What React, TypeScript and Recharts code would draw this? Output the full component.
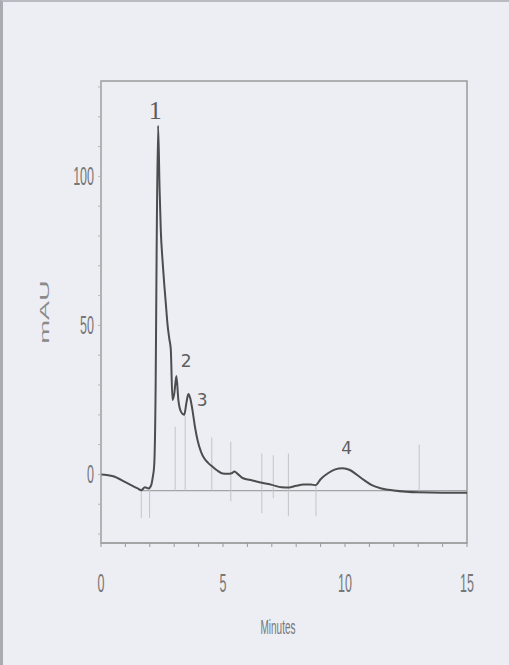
import { LineChart, Line, XAxis, YAxis, ReferenceLine, ReferenceArea, Scatter } from "recharts";

// retention time (min) and absorbance (mAU)
const times = [
  0, 0.5, 1.0, 1.5, 1.65, 1.8, 1.95, 2.05, 2.12, 2.18, 2.24, 2.28, 2.34, 2.4, 2.45, 2.52, 2.59, 2.66, 2.73, 2.8,
  2.86, 2.93, 3.0, 3.09, 3.17, 3.28, 3.41, 3.5, 3.58, 3.66, 3.75, 3.85, 3.96, 4.1, 4.23, 4.4, 4.57, 4.75, 4.98,
  5.2, 5.35, 5.47, 5.6, 5.8, 6.2, 6.6, 7.0, 7.4, 7.7, 8.0, 8.3, 8.6, 8.8, 9.0, 9.3, 9.6, 9.9, 10.2, 10.5, 10.8,
  11.1, 11.5, 12.0, 12.5, 13.0, 14.0, 15.0,
];
const mau = [
  0, -0.6, -2.6, -4.7, -5.3, -4.3, -4.7, -3.8, -1, 3, 30, 75, 117, 96, 82, 72, 64, 57, 50, 45.5,
  42, 25, 27, 33, 25, 21, 20, 24, 27, 25.5, 21.5, 16, 11.4, 7.6, 5.4, 3.8, 2.6, 1.4, 0.3,
  0.2, 0.4, 1.0, 0.2, -1.2, -2, -2.8, -3.5, -4.3, -4.4, -3.8, -3.4, -3.4, -3.6, -1.6, 0.4, 1.7, 2.1, 1.5, -0.2, -2,
  -3.6, -4.7, -5.4, -5.8, -6, -6.1, -6.1,
];

const xTicks = [0, 1, 2, 3, 4, 5, 6, 7, 8, 9, 10, 11, 12, 13, 14, 15];
const xLabels = [0, 5, 10, 15];
const yTicks = [-20, -10, 0, 10, 20, 30, 40, 50, 60, 70, 80, 90, 100, 110, 120, 130];
const yLabels = [0, 50, 100];

// integration event markers: time, upper end, lower end (mAU)
const markerTimes = [1.65, 1.99, 3.04, 3.45, 4.54, 5.32, 6.59, 7.06, 7.68, 8.81, 13.04];
const markerTops = [-5, -3.8, 16, 19.6, 12.4, 11, 7, 6.4, 7, -4, 10];
const markerBottoms = [-14.6, -14.6, -5.4, -5.4, -5.4, -9, -13, -8, -14, -14, -5.6];

const baselineStart = 1.65;
const baselineEnd = 15;
const baselineLevel = -5.4;

const peakNames = ["1", "2", "3", "4"];
const peakLabelX = [2.22, 3.49, 4.15, 10.07];
const peakLabelY = [122, 38, 25, 8.8];

const data = times.map((t, i) => ({ t, v: mau[i] }));
const peaks = peakNames.map((name, i) => ({ t: peakLabelX[i], v: peakLabelY[i], name }));
const markers = markerTimes.map((t, i) => ({ t, top: markerTops[i], bottom: markerBottoms[i] }));

const ink = "#4d4d4f";
const axisGray = "#9a9a9a";
const labelGray = "#777";

const XTick = ({ x, y, payload }: any) => {
  if (!xLabels.includes(payload.value)) return <g />;
  return (
    <text
      transform={`translate(${x},${y + 43}) scale(0.5,1)`}
      textAnchor="middle"
      fontFamily="Liberation Sans"
      fontSize={25}
      fill={labelGray}
    >
      {payload.value}
    </text>
  );
};

const YTick = ({ x, y, payload }: any) => {
  if (!yLabels.includes(payload.value)) return <g />;
  return (
    <text
      transform={`translate(${x - 2},${y + 9}) scale(0.5,1)`}
      textAnchor="end"
      fontFamily="Liberation Sans"
      fontSize={25}
      fill={labelGray}
    >
      {payload.value}
    </text>
  );
};

const PeakLabel = ({ cx, cy, payload }: any) => (
  <text
    x={cx}
    y={cy}
    textAnchor="middle"
    dominantBaseline="central"
    fontFamily={payload.name === "1" ? "Liberation Serif" : "DejaVu Sans"}
    fontSize={payload.name === "1" ? 26 : 17}
    fill="#5e5e5e"
  >
    {payload.name}
  </text>
);

export default function App() {
  return (
    <div
      style={{
        position: "fixed",
        left: 0,
        top: 0,
        width: 509,
        height: 665,
        background: "#eceef4",
        boxSizing: "border-box",
        borderTop: "2px solid #b9bbc2",
        borderLeft: "3px solid #a9abb2",
      }}
    >
      <div style={{ position: "absolute", left: -3, top: -2 }}>
        <LineChart width={509} height={665} data={data} margin={{ top: 81, right: 42, bottom: 82, left: 41 }}>
          <XAxis
            dataKey="t"
            type="number"
            domain={[0, 15]}
            ticks={xTicks}
            height={40}
            tickSize={4}
            stroke={axisGray}
            tick={<XTick />}
            interval={0}
            label={{
              content: ({ viewBox }: any) => (
                <text
                  transform={`translate(${viewBox.x + viewBox.width / 2 - 6},${viewBox.y + 91}) scale(0.5,1)`}
                  textAnchor="middle"
                  fontFamily="Liberation Sans"
                  fontSize={20}
                  fill={labelGray}
                >
                  Minutes
                </text>
              ),
            }}
          />
          <YAxis
            type="number"
            domain={[-23, 132]}
            ticks={yTicks}
            width={60}
            tickSize={3}
            stroke="#b5b5b5"
            tick={<YTick />}
            interval={0}
            allowDataOverflow
            label={{
              content: ({ viewBox }: any) => (
                <text
                  transform={`translate(45,${viewBox.y + viewBox.height / 2}) rotate(-90) scale(2.2,1)`}
                  textAnchor="middle"
                  dominantBaseline="central"
                  fontFamily="Liberation Sans"
                  fontSize={13}
                  fill="#8a8a8a"
                >
                  mAU
                </text>
              ),
            }}
          />
          <ReferenceArea x1={0} x2={15} y1={-23} y2={132} stroke={axisGray} strokeWidth={1.5} fill="none" fillOpacity={0} />
          <ReferenceLine
            segment={[
              { x: baselineStart, y: baselineLevel },
              { x: baselineEnd, y: baselineLevel },
            ]}
            stroke="#a3a3a3"
            strokeWidth={1.2}
          />
          {markers.map((m) => (
            <ReferenceLine
              key={m.t}
              segment={[
                { x: m.t, y: m.top },
                { x: m.t, y: m.bottom },
              ]}
              stroke="#c4c4c8"
              strokeWidth={1}
            />
          ))}
          <Line
            type="monotone"
            dataKey="v"
            stroke={ink}
            strokeWidth={2}
            dot={false}
            isAnimationActive={false}
          />
          <Scatter data={peaks} dataKey="v" shape={<PeakLabel />} isAnimationActive={false} />
        </LineChart>
      </div>
    </div>
  );
}
